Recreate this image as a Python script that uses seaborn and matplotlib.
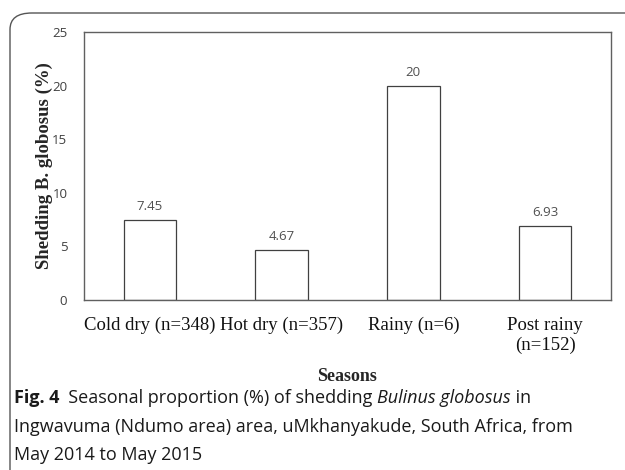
import matplotlib
matplotlib.use("Agg")
import matplotlib.pyplot as plt
from matplotlib.patches import FancyBboxPatch
import seaborn as sns
import pandas as pd

# data
seasons = ["Cold dry (n=348)", "Hot dry (n=357)", "Rainy (n=6)", "Post rainy\n(n=152)"]
shedding = [7.45, 4.67, 20, 6.93]
value_labels = ["7.45", "4.67", "20", "6.93"]
y_ticks = [0, 5, 10, 15, 20, 25]

sns.set_theme(style="white")
plt.rcParams["font.family"] = ["DejaVu Sans"]

df = pd.DataFrame({"season": seasons, "pct": shedding})

fig = plt.figure(figsize=(6.25, 4.7), dpi=100)
ax = fig.add_axes([84 / 625, 1 - 300 / 470, 527 / 625, 268 / 470])

sns.barplot(data=df, x="season", y="pct", ax=ax, width=0.4,
            color="white", edgecolor="#404040", linewidth=0.9)

ax.set_ylim(0, 25)
ax.set_yticks(y_ticks)
ax.set_yticklabels([str(t) for t in y_ticks], family="Open Sans",
                   fontsize=9.5, color="#404040")
ax.set_xticks(range(len(seasons)))
ax.set_xticklabels(seasons, family="Liberation Serif", fontsize=13.5,
                   color="#111111")
ax.tick_params(axis="both", length=0)
ax.tick_params(axis="x", pad=12)
ax.tick_params(axis="y", pad=12)

for i, (v, lab) in enumerate(zip(shedding, value_labels)):
    ax.annotate(lab, (i, v), xytext=(0, 5), textcoords="offset points",
                ha="center", va="bottom", family="Open Sans",
                fontsize=9.5, color="#505050")

for s in ax.spines.values():
    s.set_visible(True)
    s.set_color("#606060")
    s.set_linewidth(1.0)

ax.set_xlabel("Seasons", family="Liberation Serif", fontweight="bold",
              fontsize=13, labelpad=12)
ax.set_ylabel("Shedding B. globosus (%)", family="Liberation Serif",
              fontweight="bold", fontsize=13.5)
ax.xaxis.set_label_coords(0.5, -0.255)
ax.yaxis.set_label_coords(-0.058, 0.5)

# rounded frame around figure (left and top edges visible)
frame = FancyBboxPatch((10 / 625, -0.2), 1.2, 1 - 13 / 470 + 0.2,
                       boxstyle="round,pad=0,rounding_size=0.035",
                       transform=fig.transFigure, fill=False,
                       edgecolor="#555555", linewidth=1.0)
fig.patches.append(frame)

# caption
cap_size = 13.0
renderer = fig.canvas.get_renderer()


def put(x, y, s, **kw):
    t = fig.text(x, y, s, fontsize=cap_size, family="Open Sans",
                 color="#1a1a1a", va="center", ha="left",
                 transform=None, **kw)
    bb = t.get_window_extent(renderer)
    return bb.x1


x0 = 14
y1 = 470 - 398
x = put(x0, y1, "Fig. 4", fontweight="bold")
x = put(x, y1, "  Seasonal proportion (%) of shedding ")
x = put(x, y1, "Bulinus globosus", style="italic")
put(x, y1, " in")
put(x0, 470 - 427, "Ingwavuma (Ndumo area) area, uMkhanyakude, South Africa, from")
put(x0, 470 - 455, "May 2014 to May 2015")

fig.savefig("out.png", dpi=100)
